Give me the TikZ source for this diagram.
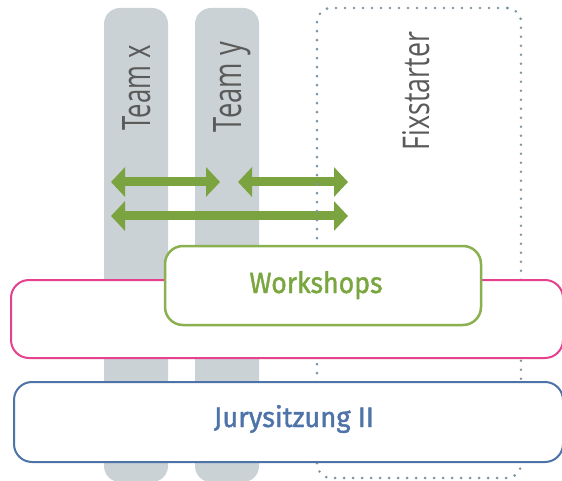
\documentclass[tikz,border=0pt]{standalone}
\usepackage{fontspec}
\usepackage{graphicx}
\usetikzlibrary{arrows.meta}
\newfontfamily\labelfont{Open Sans}
\newfontfamily\boxfont[BoldFont={Fira Sans}, BoldFeatures={FakeBold=1.4}]{Fira Sans}
\definecolor{barfill}{HTML}{CAD2D5}
\definecolor{labelgray}{HTML}{5A5A5A}
\definecolor{dotgray}{HTML}{7F94A2}
\definecolor{arrowgreen}{HTML}{7BA33F}
\definecolor{wsgreen}{HTML}{8AB050}
\definecolor{wstext}{HTML}{7AA640}
\definecolor{phasepink}{HTML}{E6418F}
\definecolor{juryblue}{HTML}{4E73A8}
\newcommand{\fitto}[3]{\resizebox{#1}{#2}{#3}}
\tikzset{
  bar/.style={fill=barfill, draw=none, rounded corners=16pt, inner sep=0pt},
  teamlabel/.style={rotate=90, anchor=base, inner sep=0pt, text=labelgray, font=\labelfont},
  fixbox/.style={draw=dotgray, line width=2.9pt, line cap=round, dash pattern=on 0pt off 9pt, rounded corners=14pt, inner sep=0pt},
  pairarrow/.style={draw=arrowgreen, line width=9pt, {Triangle[length=14pt,width=29pt]}-{Triangle[length=14pt,width=29pt]}},
  pinkbox/.style={draw=phasepink, line width=2pt, fill=white, rounded corners=18pt, inner sep=0pt},
  wsbox/.style={draw=wsgreen, line width=2.5pt, fill=white, rounded corners=18pt, inner sep=0pt},
  jurybox/.style={draw=juryblue, line width=2pt, fill=white, rounded corners=18pt, inner sep=0pt},
  boxlabel/.style={anchor=base, inner sep=0pt, font=\boxfont\bfseries}
}
\begin{document}
\begin{tikzpicture}[x=1pt,y=-1pt]
\useasboundingbox (0,0) rectangle (562,481);
\clip (0,0) rectangle (562,481);

% team columns
\node[bar, minimum width=64pt, minimum height=474pt] (teamx) at (136,245) {};
\node[bar, minimum width=64pt, minimum height=474pt] (teamy) at (227,245) {};
\node[teamlabel] (teamxlabel) at (150,88) {\fitto{85pt}{28pt}{Team x}};
\node[teamlabel] (teamylabel) at (241,87) {\fitto{90pt}{28pt}{Team y}};

% exchange arrows
\coordinate (a1l) at (111,182);
\coordinate (a1r) at (220,182);
\coordinate (a2l) at (238,182);
\coordinate (a2r) at (348,182);
\coordinate (a3l) at (111,216);
\coordinate (a3r) at (348,216);
\draw[pairarrow] (a1l) -- (a1r);
\draw[pairarrow] (a2l) -- (a2r);
\draw[pairarrow] (a3l) -- (a3r);

% fixstarter frame
\node[fixbox, minimum width=204pt, minimum height=470pt] (fix) at (419,243) {};
\node[teamlabel] (fixlabel) at (429,91) {\fitto{118pt}{27pt}{Fixstarter}};

% phases
\node[pinkbox, minimum width=552pt, minimum height=78pt] (phase) at (287,319) {};
\node[wsbox, minimum width=316pt, minimum height=79pt] (ws) at (323,285.5) {};
\node[boxlabel, text=wstext] (wslabel) at (316,293) {\fitto{133pt}{22pt}{Workshops}};
\node[jurybox, minimum width=549pt, minimum height=80pt] (jury) at (288.5,422) {};
\node[boxlabel, text=juryblue] (jurylabel) at (294,427) {\fitto{160pt}{22pt}{Jurysitzung II}};
\end{tikzpicture}
\end{document}
